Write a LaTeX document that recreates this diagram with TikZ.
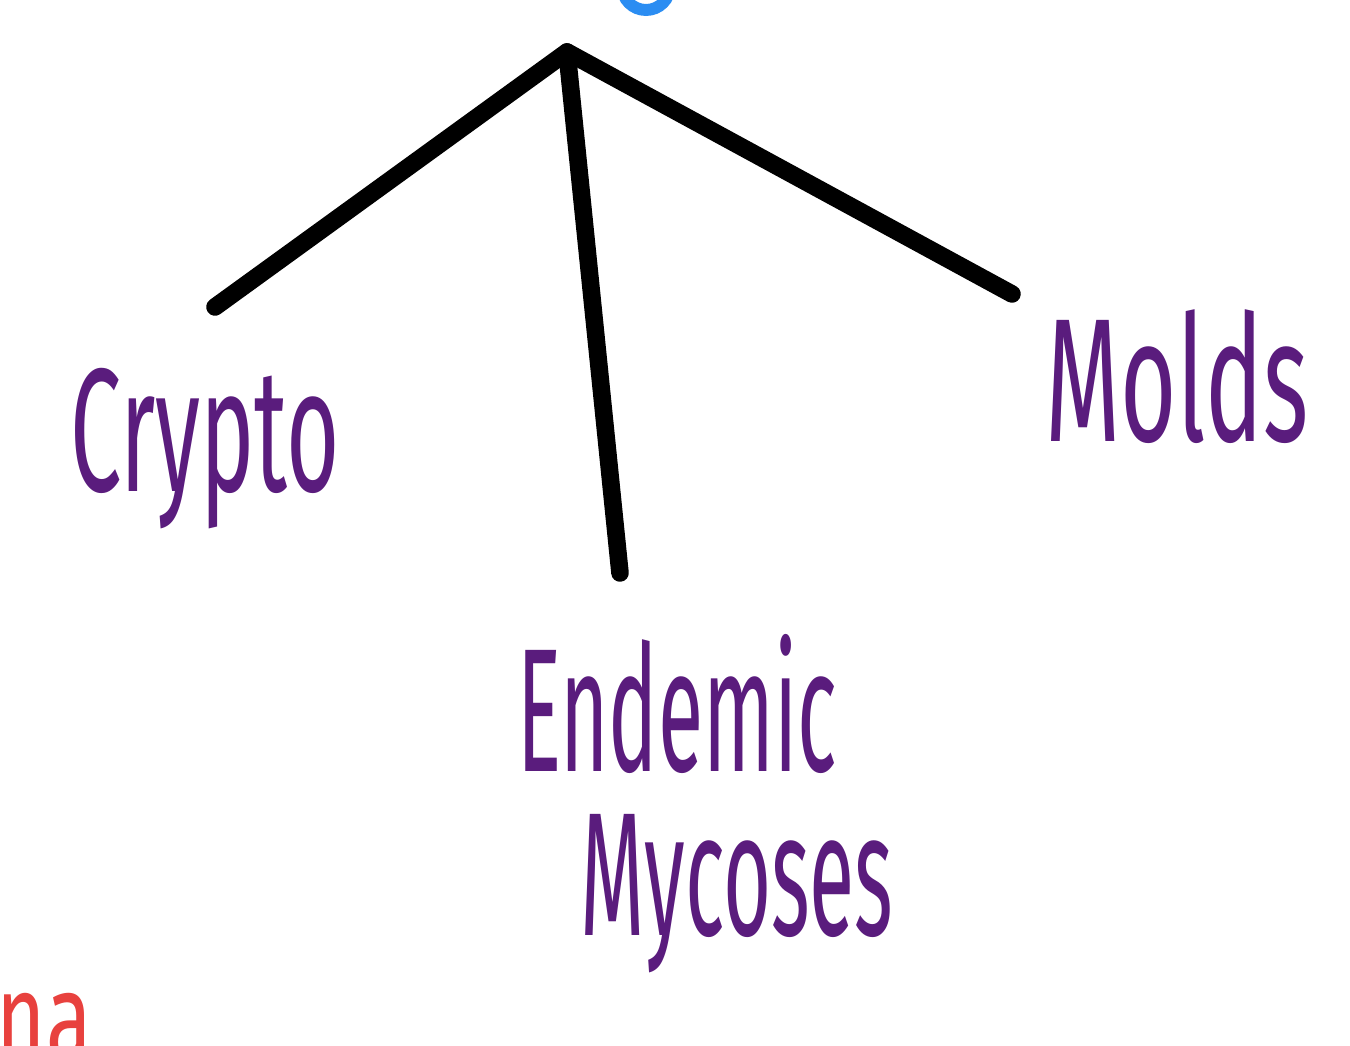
\documentclass[tikz,border=0pt]{standalone}
\usepackage{fontspec}
\usepackage{graphicx}
\setmainfont{Fira Sans}
\usetikzlibrary{positioning}
\definecolor{inkpurple}{HTML}{5A1C7D}
\definecolor{inkblue}{HTML}{2B8DF2}
\definecolor{inkred}{HTML}{E8413E}

\begin{document}
\begin{tikzpicture}[x=0.01cm, y=-0.01cm,
    branch/.style={line width=5pt, line cap=round, line join=round, black},
    label/.style={inner sep=0pt, text=inkpurple, font=\fontsize{50}{50}\selectfont\mdseries},
  ]
  \useasboundingbox (0,0) rectangle (1350,1046);

  \draw[inkblue, line width=3.4pt] (646,-14) circle (24);

  \coordinate (top) at (567,52);
  \coordinate (l) at (215,307);
  \coordinate (m) at (620,573);
  \coordinate (r) at (1012,294);

  \draw[branch] (l) -- (top) -- (r);
  \draw[branch] (top) -- (m);

  \node[label, anchor=base] (crypto) at (205,492) {\scalebox{0.52}[1]{Crypto}};
  \node[label, anchor=base] (endemic) at (677,772) {\scalebox{0.47}[1]{Endemic}};
  \node[label, anchor=base] (mycoses) at (737,936) {\scalebox{0.47}[1]{Mycoses}};
  \node[label, anchor=base] (molds) at (1177,442) {\scalebox{0.55}[1]{Molds}};

  \node[inner sep=0pt, anchor=base west, text=inkred,
        font=\fontsize{30}{30}\selectfont] (frag) at (-4,1062) {\scalebox{0.8}[1.2]{na}};
\end{tikzpicture}
\end{document}
